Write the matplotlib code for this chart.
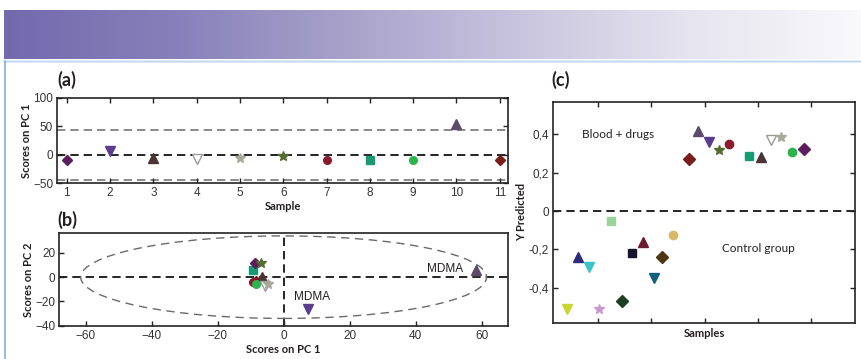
import numpy as np
import matplotlib
matplotlib.use("Agg")
import matplotlib.pyplot as plt
from matplotlib.patches import Ellipse
from matplotlib.colors import LinearSegmentedColormap

# ---------------- data ----------------
# Panel (a): PCA scores on PC1 per sample
sample_a = [1, 2, 3, 4, 5, 6, 7, 8, 9, 10, 11]
pc1_a = [-10, 6, -6, -8, -6, -3, -10, -10, -10, 55, -10]
limit_a = 44

# shared style per drug sample (marker, face colour, edge colour)
drug_markers = ["D", "v", "^", "v", "*", "*", "o", "s", "o", "^", "D"]
drug_colors = ["#5b1d5b", "#5a3d8e", "#4a3434", "white", "#a9a99a", "#556b2f",
               "#8b1a2c", "#1a9a72", "#2bb34c", "#5e4a6b", "#7a1c1c"]
drug_edges = ["#5b1d5b", "#5a3d8e", "#4a3434", "#9a9a9a", "#a9a99a", "#556b2f",
              "#8b1a2c", "#1a9a72", "#2bb34c", "#5e4a6b", "#7a1c1c"]

# Panel (b): scores PC1 vs PC2
pc1_b = [-8.6, 7.5, -6.5, -5.7, -4.7, -7.0, -9.4, -9.3, -8.3, 58.4, -8.5]
pc2_b = [12, -26, 0, -7.5, -6, 12, -3.6, 6, -6, 6.2, -3]
ellipse_a, ellipse_b = 61.5, 34
mdma_labels = ["MDMA", "MDMA"]

# Panel (c): Y predicted
drug_x = [13.5, 14.4, 15.4, 16.3, 17.3, 19.2, 20.3, 21.2, 22.2, 23.2, 24.3]
drug_y = [0.27, 0.42, 0.36, 0.32, 0.35, 0.29, 0.28, 0.37, 0.385, 0.31, 0.325]
drug_c_markers = ["D", "^", "v", "*", "o", "s", "^", "v", "*", "o", "D"]
drug_c_colors = ["#7a1c1c", "#5e4a6b", "#5a3d8e", "#556b2f", "#8b1a2c", "#1a9a72",
                 "#4a3434", "white", "#a9a99a", "#2bb34c", "#5b1d5b"]
drug_c_edges = ["#7a1c1c", "#5e4a6b", "#5a3d8e", "#556b2f", "#8b1a2c", "#1a9a72",
                "#4a3434", "#9a9a9a", "#a9a99a", "#2bb34c", "#5b1d5b"]

ctrl_x = [2.1, 3.1, 4.1, 5.1, 6.2, 7.2, 8.2, 9.2, 10.2, 11.0, 12.0]
ctrl_y = [-0.51, -0.24, -0.29, -0.51, -0.05, -0.47, -0.22, -0.16, -0.35, -0.24, -0.125]
ctrl_markers = ["v", "^", "v", "*", "s", "D", "s", "^", "v", "D", "o"]
ctrl_colors = ["#c8d62e", "#2e2a7a", "#3bc4c9", "#c99ad0", "#9ad49a", "#1f3f22",
               "#14142e", "#6e1a30", "#0f5f7e", "#4e3514", "#d8b86a"]

c_yticks = [-0.4, -0.2, 0, 0.2, 0.4]
c_yticklabels = ["-0,4", "-0,2", "0", "0,2", "0,4"]
c_xticks = [5, 10, 15, 20, 25]

# ---------------- figure ----------------
W, H = 862, 359
fig = plt.figure(figsize=(W / 100, H / 100), dpi=100)
fig.patch.set_facecolor("white")

TXT = "#231f20"
label_font = ["Lato", "DejaVu Sans"]
tick_font = ["Liberation Sans", "DejaVu Sans"]

# header gradient band
hax = fig.add_axes([4 / W, 1 - 59.5 / H, 1 - 4 / W, 49.5 / H])
cmap = LinearSegmentedColormap.from_list(
    "hdr", ["#7369ad", "#8880ba", "#a8a2ca", "#c8c4de", "#e6e4ef", "#f9f9fb"])
hax.imshow(np.linspace(0, 1, 256)[None, :], aspect="auto", cmap=cmap,
           extent=[0, 1, 0, 1])
hax.set_axis_off()

# thin frame lines
fig.add_artist(plt.Line2D([4.5 / W, 1], [1 - 60.5 / H, 1 - 60.5 / H],
                          color="#5e96d0", lw=1.0, transform=fig.transFigure))
fig.add_artist(plt.Line2D([4.5 / W, 1], [1 - 62 / H, 1 - 62 / H],
                          color="#d8e8f6", lw=1.2, transform=fig.transFigure))
fig.add_artist(plt.Line2D([4.8 / W, 4.8 / W], [0, 1 - 60.5 / H],
                          color="#7fb2e2", lw=1.2, transform=fig.transFigure))


def msize(m, big=False):
    if m == "*":
        return 7.5 if big else 7
    if m in "v^":
        return 7 if big else 6.5
    return 6 if big else 5.5


def style_ticks(ax, top=True, right=True):
    ax.tick_params(direction="in", length=3.5, width=1.0, colors="#222222",
                   labelsize=8.5, top=top, right=right, pad=3)
    for lbl in ax.get_xticklabels() + ax.get_yticklabels():
        lbl.set_family(tick_font)
        lbl.set_color("#333333")
    for s in ax.spines.values():
        s.set_linewidth(1.2)
        s.set_color("#222222")


# ----- panel (a) -----
axa = fig.add_axes([57.3 / W, 1 - 183 / H, (508 - 57.3) / W, 85 / H])
axa.set_xlim(0.78, 11.19)
axa.set_ylim(-50, 100)
axa.axhline(0, color="black", ls=(0, (5, 3)), lw=1.2, zorder=1)
axa.axhline(limit_a, color="#777777", ls=(0, (5, 3)), lw=1.2, zorder=1)
axa.axhline(-limit_a, color="#777777", ls=(0, (5, 3)), lw=1.2, zorder=1)
for x, y, m, c, e in zip(sample_a, pc1_a, drug_markers, drug_colors, drug_edges):
    axa.plot(x, y, marker=m, ms=msize(m), mfc=c, mec=e, mew=1.0, ls="none", zorder=3)
axa.set_xticks(sample_a)
axa.set_yticks([-50, 0, 50, 100])
style_ticks(axa)
axa.set_xlabel("Sample", fontsize=8, fontweight="bold", family=label_font,
               color=TXT, labelpad=1)
axa.set_ylabel("Scores on PC 1", fontsize=8, fontweight="bold", family=label_font,
               color=TXT, labelpad=0.5)
fig.text(57 / W, 1 - 80 / H, "(a)", fontsize=13, fontweight="bold",
         family=label_font, color=TXT, va="center", ha="left")

# ----- panel (b) -----
axb = fig.add_axes([59.3 / W, 1 - 325.7 / H, (508 - 59.3) / W, 92.7 / H])
axb.set_xlim(-68, 68)
axb.set_ylim(-40, 36.4)
axb.axhline(0, color="black", ls=(0, (5, 3)), lw=1.2, zorder=1)
axb.axvline(0, color="black", ls=(0, (5, 3)), lw=1.2, zorder=1)
axb.add_patch(Ellipse((0, 0), 2 * ellipse_a, 2 * ellipse_b, fill=False,
                      ec="#6a6a6a", ls=(0, (6, 4)), lw=1.0, zorder=1))
order_b = [10, 6, 7, 0, 5, 2, 8, 3, 4, 9, 1]
for i in order_b:
    m = drug_markers[i]
    axb.plot(pc1_b[i], pc2_b[i], marker=m, ms=msize(m), mfc=drug_colors[i],
             mec=drug_edges[i], mew=1.0, ls="none", zorder=3)
axb.text(54.5, 7, mdma_labels[0], fontsize=8.5, family=tick_font, color=TXT,
         ha="right", va="center")
axb.text(8.5, -16, mdma_labels[1], fontsize=8.5, family=tick_font, color=TXT,
         ha="center", va="center")
axb.set_xticks([-60, -40, -20, 0, 20, 40, 60])
axb.set_yticks([-40, -20, 0, 20])
style_ticks(axb, top=False, right=False)
axb.set_xlabel("Scores on PC 1", fontsize=8, fontweight="bold", family=label_font,
               color=TXT, labelpad=1.5)
axb.set_ylabel("Scores on PC 2", fontsize=8, fontweight="bold", family=label_font,
               color=TXT, labelpad=0.5)
fig.text(57 / W, 1 - 220 / H, "(b)", fontsize=13, fontweight="bold",
         family=label_font, color=TXT, va="center", ha="left")

# ----- panel (c) -----
axc = fig.add_axes([553.3 / W, 1 - 322.7 / H, (855 - 553.3) / W, 221 / H])
axc.set_xlim(0.77, 29.13)
axc.set_ylim(-0.583, 0.571)
axc.axhline(0, color="black", ls=(0, (5, 3)), lw=1.2, zorder=1)
for x, y, m, c, e in zip(drug_x, drug_y, drug_c_markers, drug_c_colors, drug_c_edges):
    axc.plot(x, y, marker=m, ms=msize(m, True), mfc=c, mec=e, mew=1.0, ls="none", zorder=3)
for x, y, m, c in zip(ctrl_x, ctrl_y, ctrl_markers, ctrl_colors):
    axc.plot(x, y, marker=m, ms=msize(m, True), mfc=c, mec=c, mew=1.0, ls="none", zorder=3)
axc.text(3.5, 0.4, "Blood + drugs", fontsize=8.5, family=label_font, color=TXT,
         ha="left", va="center")
axc.text(16.6, -0.195, "Control group", fontsize=8.5, family=label_font, color=TXT,
         ha="left", va="center")
axc.set_xticks(c_xticks)
axc.set_xticklabels([])
axc.set_yticks(c_yticks)
axc.set_yticklabels(c_yticklabels)
style_ticks(axc)
axc.set_xlabel("Samples", fontsize=8, fontweight="bold", family=label_font,
               color=TXT, labelpad=1)
axc.set_ylabel("Y Predicted", fontsize=8, fontweight="bold", family=label_font,
               color=TXT, labelpad=1)
fig.text(551 / W, 1 - 80 / H, "(c)", fontsize=13, fontweight="bold",
         family=label_font, color=TXT, va="center", ha="left")

fig.savefig("out.png", dpi=100)
